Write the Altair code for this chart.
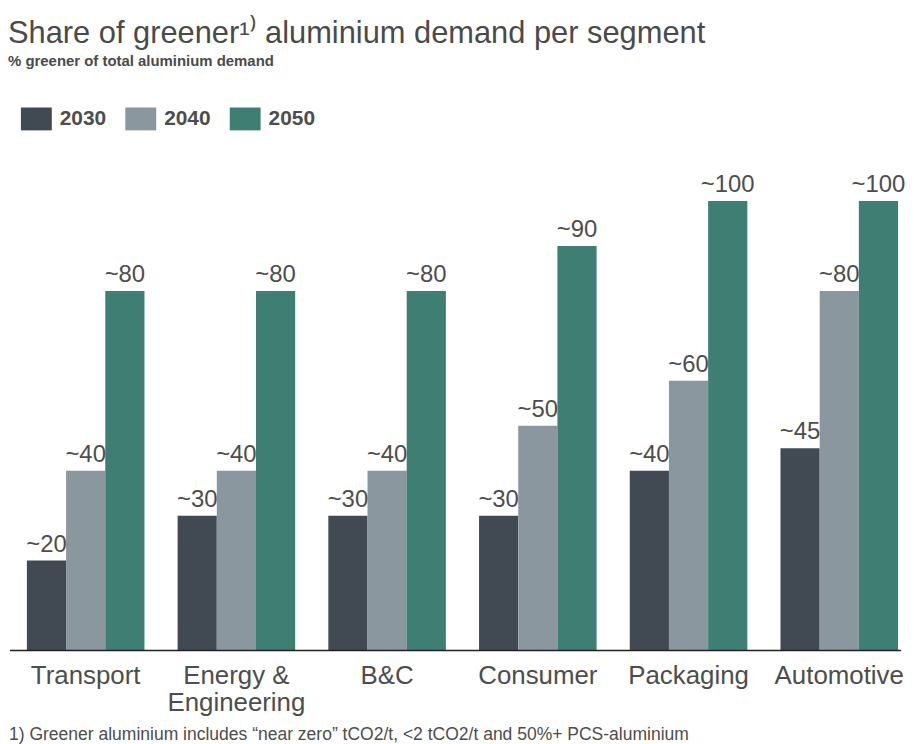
import altair as alt
import pandas as pd

segments = ["Transport", "Energy & Engineering", "B&C", "Consumer", "Packaging", "Automotive"]
years = ["2030", "2040", "2050"]
v2030 = [20, 30, 30, 30, 40, 45]
v2040 = [40, 40, 40, 50, 60, 80]
v2050 = [80, 80, 80, 90, 100, 100]
colors = ["#414a52", "#8a979e", "#3f7f73"]

title_text = "Share of greener\u00b9\u207e aluminium demand per segment"
subtitle_text = "% greener of total aluminium demand"
footnote = "1) Greener aluminium includes \u201cnear zero\u201d tCO2/t, <2 tCO2/t and 50%+ PCS-aluminium"

rows = []
for seg, a, b, c in zip(segments, v2030, v2040, v2050):
    for yr, v in zip(years, [a, b, c]):
        rows.append({"segment": seg, "year": yr, "value": v, "label": "~" + str(v)})
df = pd.DataFrame(rows)

W = 898
H = 573
FONT = "Liberation Sans"
TXT = "#4d4d4d"

x_enc = alt.X(
    "segment:N",
    sort=segments,
    scale=alt.Scale(range=[19, 895], paddingInner=0.22, paddingOuter=0),
    axis=alt.Axis(
        title=None, domain=False, ticks=False, labelFontSize=26, labelColor=TXT,
        labelPadding=12, labelLineHeight=27, labelAngle=0, labelFont=FONT,
        labelExpr="datum.label == 'Energy & Engineering' ? ['Energy &', 'Engineering'] : datum.label",
    ),
)
y_enc = alt.Y("value:Q", scale=alt.Scale(domain=[0, 100], range=[H, H - 452], nice=False, zero=True), axis=None)
xo = alt.XOffset("year:N", sort=years, scale=alt.Scale(paddingInner=0, paddingOuter=0))

base = alt.Chart(df)
bars = base.mark_bar().encode(
    x=x_enc, xOffset=xo, y=y_enc,
    color=alt.Color(
        "year:N", sort=years,
        scale=alt.Scale(domain=years, range=colors),
        legend=alt.Legend(
            title=None, orient="none", legendX=17, legendY=27, direction="horizontal",
            symbolType="M-1.35,-1H1.35V1H-1.35Z", symbolSize=529, symbolStrokeWidth=0,
            symbolOpacity=1, labelFontSize=21, labelFontWeight="bold", labelColor=TXT,
            labelFont=FONT, labelOffset=12, columnPadding=18, padding=0,
        ),
    ),
)
labels = base.mark_text(baseline="alphabetic", dy=-9, fontSize=24, color=TXT, font=FONT).encode(
    x=x_enc, xOffset=xo, y=y_enc, text="label:N"
)
rule = alt.Chart(pd.DataFrame({"v": [0]})).mark_rule(color="#222222", strokeWidth=1.5).encode(
    x=alt.value(2), x2=alt.value(W), y=alt.Y("v:Q", scale=alt.Scale(domain=[0, 100], range=[H, H - 452], nice=False), axis=None)
)
note = alt.Chart(pd.DataFrame({"t": [footnote]})).mark_text(
    align="left", baseline="alphabetic", fontSize=17.6, color=TXT, font=FONT
).encode(x=alt.value(1), y=alt.value(H + 90), text="t:N")

chart = alt.layer(bars, labels, rule, note).properties(
    width=W, height=H,
    padding={"left": 0, "right": 0, "top": 8, "bottom": 0},
    title=alt.Title(
        text=title_text, subtitle=subtitle_text, anchor="start", fontSize=31,
        fontWeight="normal", color="#4a4a4a", font=FONT, subtitleFont=FONT,
        subtitleFontSize=15, subtitleFontWeight="bold", subtitleColor="#4a4a4a",
        subtitlePadding=4, offset=11,
    ),
).configure_view(stroke=None)

chart.save("out.html", embed_options={"renderer": "svg", "actions": False})
